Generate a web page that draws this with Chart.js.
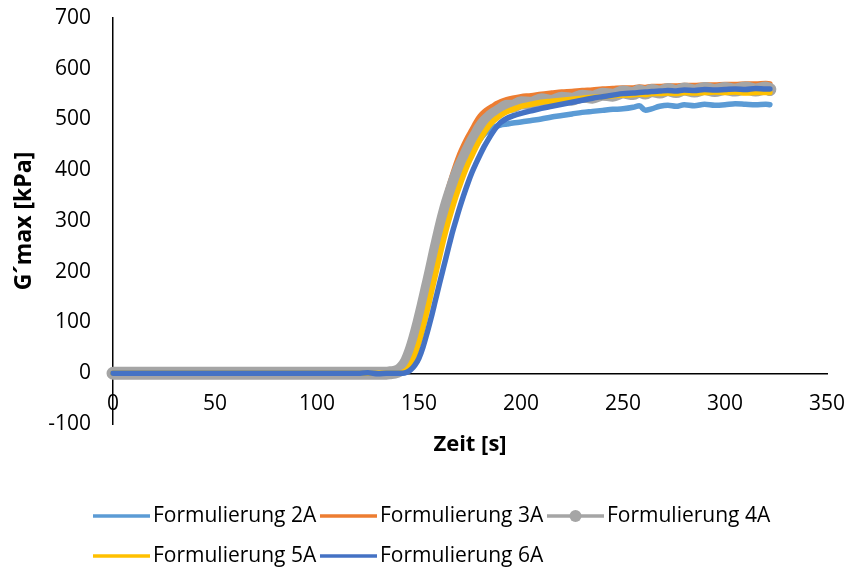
<!DOCTYPE html>
<html>
<head>
<meta charset="utf-8">
<script src="https://cdn.jsdelivr.net/npm/chart.js@4/dist/chart.umd.min.js"></script>
<style>
  html, body { margin: 0; padding: 0; background: #ffffff; }
  #c { display: block; }
</style>
</head>
<body>
<canvas id="c" width="853" height="574"></canvas>
<script>
// Messzeitpunkte [s]
const zeitSek = [
  0, 10, 20, 30, 40, 50, 60, 70, 80, 90, 100, 110, 120, 125, 130, 134, 136, 138,
  140, 142, 144, 146, 148, 150, 152, 154, 156, 158, 160, 162, 164, 166, 168, 170,
  172, 174, 176, 178, 180, 182, 184, 186, 188, 190,
  193, 196, 200,
  205, 210, 215, 220, 225, 230, 235, 240, 245, 250,
  255, 258, 261, 264, 268, 272, 276, 280,
  285, 290, 295, 300, 305, 310, 315, 320,
  322
];

// G'max [kPa] je Formulierung
const formulierung2A = [
  0, 0, 0, 0, 0, 0, 0, 0, 0, 0, 0, 0, 0, 0, 0, 0, 0, 0,
  0, 3, 10, 23, 44, 70, 100, 133, 168, 203, 237, 270, 300, 328, 354, 378,
  398, 416, 433, 449, 461, 471, 478, 483, 487, 489,
  491, 493, 495,
  498, 501, 505, 508, 511, 514, 516, 518, 520, 521,
  524, 527, 518, 521, 526, 528, 526, 529,
  527, 530, 528, 529, 531, 530, 529, 530,
  529
];
const formulierung3A = [
  0, 0, 0, 0, 0, 0, 0, 0, 0, 0, 0, 0, 0, 0, 0, 0, 0, 1,
  3, 10, 25, 50, 82, 115, 150, 185, 221, 258, 292, 325, 358, 385, 410, 432,
  450, 466, 480, 495, 507, 515, 521, 526, 531, 535,
  539, 542, 545,
  547, 550, 552, 554, 555, 557, 558, 560, 561, 562,
  562, 564, 563, 565, 565, 566, 566, 567,
  567, 568, 568, 569, 569, 570, 570, 571,
  570
];
const formulierung4A = [
  0, 0, 0, 0, 0, 0, 0, 0, 0, 0, 0, 0, 0, 0, 0, 0, 1, 2,
  5, 12, 24, 44, 70, 100, 133, 168, 203, 240, 275, 308, 337, 362, 385, 405,
  422, 439, 455, 469, 483, 494, 502, 509, 514, 519,
  526, 526, 533,
  532, 539, 536, 542, 540, 546, 544, 550, 548, 554,
  551, 556, 552, 557, 554, 559, 555, 560,
  556, 561, 557, 561, 558, 562, 558, 562,
  559
];
const formulierung5A = [
  0, 0, 0, 0, 0, 0, 0, 0, 0, 0, 0, 0, 0, 0, 0, 0, 0, 0,
  0, 2, 7, 18, 36, 60, 90, 123, 158, 193, 228, 262, 293, 321, 347, 370,
  392, 412, 429, 446, 461, 474, 486, 495, 502, 508,
  515, 520, 526,
  530, 534, 536, 538, 540, 542, 544, 545, 547, 548,
  549, 550, 549, 551, 551, 552, 551, 553,
  552, 553, 554, 553, 554, 552, 553, 553,
  553
];
const formulierung6A = [
  0, 0, 0, 0, 0, 0, 0, 0, 0, 0, 0, 0, 0, 1, -1, 0, 0, 0,
  0, 0, 2, 7, 16, 30, 52, 80, 110, 143, 176, 208, 240, 272, 300, 327,
  352, 375, 396, 414, 431, 447, 461, 474, 485, 494,
  502, 507, 512,
  517, 522, 526, 530, 534, 538, 542, 545, 548, 551,
  552, 553, 554, 555, 556, 557, 556, 558,
  557, 559, 558, 559, 560, 559, 561, 560,
  560
];

// Achsenbeschriftung
const xTickWerte = [0, 50, 100, 150, 200, 250, 300, 350];
const yTickWerte = [-100, 0, 100, 200, 300, 400, 500, 600, 700];
const serienNamen = ['Formulierung 2A', 'Formulierung 3A', 'Formulierung 4A', 'Formulierung 5A', 'Formulierung 6A'];

const punkte = (werte) => zeitSek.map((t, i) => ({ x: t, y: werte[i] }));

const SCHRIFT = "'Open Sans', 'DejaVu Sans', sans-serif";
Chart.defaults.font.family = SCHRIFT;
Chart.defaults.font.size = 21;
Chart.defaults.color = '#000000';

// Legende unter dem Diagramm, zwei Zeilen, linksbündig
const legendePlugin = {
  id: 'legendeUnten',
  afterDraw(chart) {
    const ctx = chart.ctx;
    ctx.save();
    ctx.font = `21px ${SCHRIFT}`;
    ctx.textBaseline = 'middle';
    ctx.textAlign = 'left';
    chart.data.datasets.forEach((ds, i) => {
      const zeile = i < 3 ? 0 : 1;
      const spalte = i < 3 ? i : i - 3;
      const x0 = 93 + spalte * 227;
      const y = 516 + zeile * 40;
      ctx.strokeStyle = ds.borderColor;
      ctx.lineWidth = 3.5;
      ctx.lineCap = 'butt';
      ctx.beginPath();
      ctx.moveTo(x0, y);
      ctx.lineTo(x0 + 57, y);
      ctx.stroke();
      if (ds.mitMarker) {
        ctx.fillStyle = ds.borderColor;
        ctx.beginPath();
        ctx.arc(x0 + 28.5, y, 6, 0, Math.PI * 2);
        ctx.fill();
      }
      ctx.fillStyle = '#000000';
      ctx.fillText(ds.label, x0 + 60, y);
    });
    ctx.restore();
  }
};

const linie = (label, werte, farbe, breite, order, mitMarker) => ({
  label,
  data: punkte(werte),
  borderColor: farbe,
  backgroundColor: farbe,
  borderWidth: breite,
  pointRadius: 0,
  pointHoverRadius: 0,
  fill: false,
  order,
  clip: false,
  mitMarker
});

new Chart(document.getElementById('c'), {
  type: 'line',
  data: {
    datasets: [
      linie(serienNamen[0], formulierung2A, '#5B9BD5', 5.5, 5, false),
      linie(serienNamen[1], formulierung3A, '#ED7D31', 5.5, 4, false),
      linie(serienNamen[2], formulierung4A, '#A5A5A5', 13, 3, true),
      linie(serienNamen[3], formulierung5A, '#FFC000', 5.5, 2, false),
      linie(serienNamen[4], formulierung6A, '#4472C4', 5.5, 1, false)
    ]
  },
  options: {
    responsive: false,
    animation: false,
    devicePixelRatio: 1,
    layout: { padding: { left: 0, right: 26, top: 18, bottom: 150 } },
    elements: {
      line: {
        borderCapStyle: 'round',
        borderJoinStyle: 'round',
        cubicInterpolationMode: 'monotone'
      }
    },
    scales: {
      x: {
        type: 'linear',
        min: 0,
        max: 350,
        position: { y: 0 },
        grid: { display: false, drawTicks: false },
        border: { display: true, color: '#000000', width: 1.5 },
        ticks: { padding: 18, autoSkip: false, maxRotation: 0, callback: (v) => String(v) },
        afterBuildTicks: (achse) => { achse.ticks = xTickWerte.map((v) => ({ value: v })); },
        afterFit: (achse) => { achse.paddingLeft = 0; achse.paddingRight = 0; },
        title: {
          display: true,
          text: 'Zeit [s]',
          font: { size: 22, weight: 'bold' },
          padding: { top: -3, bottom: 0 }
        }
      },
      y: {
        type: 'linear',
        min: -100,
        max: 700,
        grid: { display: false, drawTicks: false },
        border: { display: true, color: '#000000', width: 1.5 },
        ticks: { padding: 22, autoSkip: false, callback: (v) => String(v) },
        afterBuildTicks: (achse) => { achse.ticks = yTickWerte.map((v) => ({ value: v })); },
        afterFit: (achse) => { achse.width = 113; achse.paddingTop = 10; achse.paddingBottom = 10; },
        title: {
          display: true,
          text: 'G´max [kPa]',
          font: { size: 23, weight: 'bold' },
          padding: { top: 11, bottom: 0 }
        }
      }
    },
    plugins: {
      legend: { display: false },
      tooltip: { enabled: false }
    }
  },
  plugins: [legendePlugin]
});
</script>
</body>
</html>
